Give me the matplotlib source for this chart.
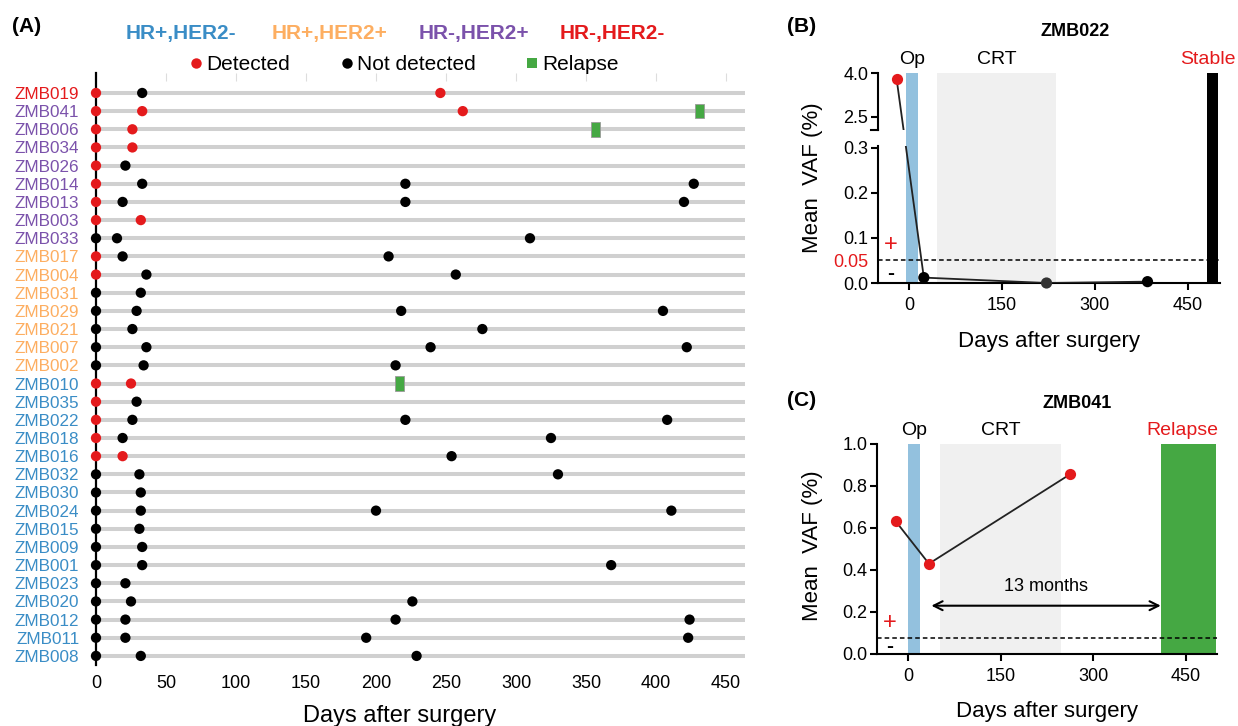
import matplotlib
matplotlib.use('Agg')
import matplotlib.pyplot as plt
from matplotlib.lines import Line2D
from matplotlib.transforms import IdentityTransform, blended_transform_factory

plt.rcParams['font.family'] = ['Liberation Sans', 'DejaVu Sans']

# ---------------- data: panel A ----------------
patients = ['ZMB019', 'ZMB041', 'ZMB006', 'ZMB034', 'ZMB026', 'ZMB014', 'ZMB013', 'ZMB003',
            'ZMB033', 'ZMB017', 'ZMB004', 'ZMB031', 'ZMB029', 'ZMB021', 'ZMB007', 'ZMB002',
            'ZMB010', 'ZMB035', 'ZMB022', 'ZMB018', 'ZMB016', 'ZMB032', 'ZMB030', 'ZMB024',
            'ZMB015', 'ZMB009', 'ZMB001', 'ZMB023', 'ZMB020', 'ZMB012', 'ZMB011', 'ZMB008']
subtypes = ['HR-,HER2-'] + ['HR-,HER2+'] * 8 + ['HR+,HER2+'] * 7 + ['HR+,HER2-'] * 16
sample_days = [
    [0, 33, 246], [0, 33, 262], [0, 26], [0, 26], [0, 21], [0, 33, 221, 427],
    [0, 19, 221, 420], [0, 32], [0, 15, 310], [0, 19, 209], [0, 36, 257], [0, 32],
    [0, 29, 218, 405], [0, 26, 276], [0, 36, 239, 422], [0, 34, 214], [0, 25],
    [0, 29], [0, 26, 221, 408], [0, 19, 325], [0, 19, 254], [0, 31, 330], [0, 32],
    [0, 32, 200, 411], [0, 31], [0, 33], [0, 33, 368], [0, 21], [0, 25, 226],
    [0, 21, 214, 424], [0, 21, 193, 423], [0, 32, 229]]
sample_detected = [
    [1, 0, 1], [1, 1, 1], [1, 1], [1, 1], [1, 0], [1, 0, 0, 0],
    [1, 0, 0, 0], [1, 1], [0, 0, 0], [1, 0, 0], [1, 0, 0], [0, 0],
    [0, 0, 0, 0], [0, 0, 0], [0, 0, 0, 0], [0, 0, 0], [1, 1],
    [1, 0], [1, 0, 0, 0], [1, 0, 0], [1, 1, 0], [0, 0, 0], [0, 0],
    [0, 0, 0, 0], [0, 0], [0, 0], [0, 0, 0], [0, 0], [0, 0, 0],
    [0, 0, 0, 0], [0, 0, 0, 0], [0, 0, 0]]
relapse_patients = ['ZMB041', 'ZMB006', 'ZMB010']
relapse_days = [431, 357, 217]
xticks_A = [0, 50, 100, 150, 200, 250, 300, 350, 400, 450]

# ---------------- data: panel B (ZMB022) ----------------
b_days = [-20, 24, 222, 385]
b_vaf = [3.8, 0.012, 0.0, 0.003]
b_colors = ['#E41A1C', '#000000', '#333333', '#000000']
b_op = (-5, 14)
b_crt = (45, 238)
b_stable = (481, 499)
b_cutoff = 0.05

# ---------------- data: panel C (ZMB041) ----------------
c_days = [-20, 34, 263]
c_vaf = [0.633, 0.43, 0.857]
c_op = (0, 19)
c_crt = (52, 247)
c_relapse = (410, 498)
c_cutoff = 0.075
c_arrow = (38, 409, 0.23)

RED = '#E41A1C'
BLUE_BAND = '#93C1DE'
GRAY_BAND = '#F0F0F0'
GREEN = '#45A843'
sub_colors = {'HR+,HER2-': '#3A8DC6', 'HR+,HER2+': '#FDAE61',
              'HR-,HER2+': '#7B52AB', 'HR-,HER2-': '#E41A1C'}

W, H = 1238, 726
fig = plt.figure(figsize=(W / 100, H / 100), dpi=100)


def fx(px):
    return px / W


def fy(py):
    return 1 - py / H


def rect(l, t, r, b):
    return [fx(l), fy(b), fx(r) - fx(l), fy(t) - fy(b)]


# ================= Panel A =================
axA = fig.add_axes(rect(96, 73, 745, 665))
n = len(patients)
axA.set_xlim(0, 463.6)
axA.set_ylim(n - 0.5, -1.1)
for i in range(n):
    axA.axhline(i, color='#D0D0D0', lw=2.9, zorder=1)
for i in range(n):
    days = sample_days[i]
    det = sample_detected[i]
    cols = [RED if d else 'black' for d in det]
    axA.scatter(days, [i] * len(days), s=55, c=cols, zorder=4, clip_on=False, linewidths=0)
for p, d in zip(relapse_patients, relapse_days):
    i = patients.index(p)
    axA.barh(i, 6.4, left=d - 3.2, height=0.8, color=GREEN, edgecolor='#9a9a9a',
             linewidth=0.6, zorder=5)
for s in ['top', 'right', 'bottom']:
    axA.spines[s].set_visible(False)
axA.spines['left'].set_linewidth(1.6)
axA.spines['left'].set_zorder(3)
axA.set_yticks(range(n))
axA.set_yticklabels(patients, fontsize=12.3)
for lab, st in zip(axA.get_yticklabels(), subtypes):
    lab.set_color(sub_colors[st])
axA.tick_params(axis='y', length=0, pad=12)
axA.set_xticks(xticks_A)
axA.tick_params(axis='x', bottom=False, top=True, direction='in', length=6,
                color='#DDDDDD', labelsize=13, pad=7)
fig.text(fx(400), fy(722), 'Days after surgery', fontsize=17, ha='center', va='baseline')
fig.text(fx(12), fy(27), '(A)', fontsize=15, fontweight='bold', ha='left', va='center')

header = ['HR+,HER2-', 'HR+,HER2+', 'HR-,HER2+', 'HR-,HER2-']
header_x = [181, 330, 474, 612]
for h, x in zip(header, header_x):
    fig.text(fx(x), fy(33), h, fontsize=15, fontweight='bold', color=sub_colors[h],
             ha='center', va='center')

handles = [Line2D([], [], ls='', marker='o', markersize=7.5, markerfacecolor=RED, markeredgewidth=0),
           Line2D([], [], ls='', marker='o', markersize=7.5, markerfacecolor='black', markeredgewidth=0),
           Line2D([], [], ls='', marker='s', markersize=6.5, markerfacecolor=GREEN, markeredgewidth=0)]
fig.legend(handles, ['Detected', 'Not detected', 'Relapse'], ncol=3, frameon=False,
           fontsize=15, loc='center left', bbox_to_anchor=(fx(188), fy(65)),
           borderaxespad=0, borderpad=0, handlelength=0.8, handletextpad=0.1,
           columnspacing=2.3)


def style_axis(ax, bottom=True):
    for s in ['top', 'right']:
        ax.spines[s].set_visible(False)
    ax.spines['left'].set_linewidth(1.5)
    ax.spines['bottom'].set_linewidth(1.5)
    if not bottom:
        ax.spines['bottom'].set_visible(False)
    ax.tick_params(width=1.5, length=5, direction='out', labelsize=13, pad=2)
    ax.set_facecolor('none')


# ================= Panel B =================
bx0, bx1 = -50, 502
ax_bg = fig.add_axes(rect(878, 73, 1220, 283))
ax_bg.set_xlim(bx0, bx1)
ax_bg.set_ylim(0, 1)
ax_bg.axis('off')
ax_bg.axvspan(*b_op, color=BLUE_BAND, lw=0)
ax_bg.axvspan(*b_crt, color=GRAY_BAND, lw=0)
ax_bg.axvspan(*b_stable, color='black', lw=0)
ax_bg.set_zorder(0)

ax_up = fig.add_axes(rect(878, 73, 1220, 130))
ax_lo = fig.add_axes(rect(878, 146, 1220, 283))
for ax in (ax_up, ax_lo):
    ax.set_zorder(1)
    ax.set_xlim(bx0, bx1)
ax_up.set_ylim(2.046, 4.0)
ax_lo.set_ylim(0, 0.3044)
style_axis(ax_up, bottom=False)
style_axis(ax_lo)
ax_up.set_xticks([])
ax_up.set_yticks([2.5, 4.0])
ax_up.set_yticklabels(['2.5', '4.0'])
ax_up.plot([-0.02, 0], [0, 0], transform=ax_up.transAxes, color='black', lw=1.5,
           clip_on=False)
ax_lo.set_xticks([0, 150, 300, 450])
ax_lo.tick_params(axis='x', pad=5)
ax_lo.set_yticks([0, b_cutoff, 0.1, 0.2, 0.3])
ax_lo.set_yticklabels(['0.0', '0.05', '0.1', '0.2', '0.3'])
ax_lo.get_yticklabels()[1].set_color(RED)
ax_lo.yaxis.get_major_ticks()[1].tick1line.set_visible(False)
ax_lo.axhline(b_cutoff, color='black', ls=(0, (3, 2)), lw=1.1, zorder=2)

# points
ax_up.scatter(b_days[:1], b_vaf[:1], s=65, c=b_colors[:1], zorder=5, clip_on=False, linewidths=0)
ax_lo.plot(b_days[1:], b_vaf[1:], color='#222222', lw=1.3, zorder=3)
ax_lo.scatter(b_days[1:], b_vaf[1:], s=65, c=b_colors[1:], zorder=5, clip_on=False, linewidths=0)
# line crossing the axis break (drawn in display space between both axes)
p1 = ax_up.transData.transform((b_days[0], b_vaf[0]))
p2 = ax_lo.transData.transform((b_days[1], b_vaf[1]))
for ax in (ax_up, ax_lo):
    ln = Line2D([p1[0], p2[0]], [p1[1], p2[1]], transform=IdentityTransform(),
                color='#222222', lw=1.3, zorder=3)
    ax.add_line(ln)
    ax.set_xlim(bx0, bx1)
ax_up.set_ylim(2.046, 4.0)
ax_lo.set_ylim(0, 0.3044)

ax_lo.text(-29, 0.084, '+', color=RED, fontsize=17, ha='center', va='center')
ax_lo.text(-29, 0.022, '-', color='black', fontsize=15, ha='center', va='center',
           fontweight='bold')
tb = blended_transform_factory(ax_bg.transData, ax_bg.transAxes)
ax_bg.text(sum(b_op) / 2, 1.025, 'Op', transform=tb, fontsize=14, ha='center', va='bottom')
ax_bg.text(sum(b_crt) / 2, 1.025, 'CRT', transform=tb, fontsize=14, ha='center', va='bottom')
ax_bg.text(sum(b_stable) / 2 - 7, 1.025, 'Stable', transform=tb, fontsize=14, color=RED,
           ha='center', va='bottom')
fig.text(fx(1075), fy(32), 'ZMB022', fontsize=13, fontweight='bold', ha='center', va='center')
fig.text(fx(787), fy(27), '(B)', fontsize=15, fontweight='bold', ha='left', va='center')
fig.text(fx(812), fy(178), 'Mean  VAF (%)', fontsize=16, rotation=90, ha='center', va='center')
fig.text(fx(1049), fy(347), 'Days after surgery', fontsize=16, ha='center', va='baseline')

# ================= Panel C =================
axC = fig.add_axes(rect(877, 444, 1217, 654))
axC.set_xlim(-50, 500)
axC.set_ylim(0, 1.0)
style_axis(axC)
axC.set_facecolor('white')
axC.axvspan(*c_op, color=BLUE_BAND, lw=0, zorder=0)
axC.axvspan(*c_crt, color=GRAY_BAND, lw=0, zorder=0)
axC.axvspan(*c_relapse, color=GREEN, lw=0, zorder=1)
axC.axhline(c_cutoff, color='black', ls=(0, (3, 2)), lw=1.1, zorder=2)
axC.plot(c_days, c_vaf, color='#222222', lw=1.3, zorder=3)
axC.scatter(c_days, c_vaf, s=65, c=RED, zorder=5, clip_on=False, linewidths=0)
axC.set_xticks([0, 150, 300, 450])
axC.set_yticks([0, 0.2, 0.4, 0.6, 0.8, 1.0])
axC.set_yticklabels(['0.0', '0.2', '0.4', '0.6', '0.8', '1.0'])
axC.tick_params(axis='x', pad=5)
axC.annotate('', xy=(c_arrow[0], c_arrow[2]), xytext=(c_arrow[1], c_arrow[2]),
             arrowprops=dict(arrowstyle='<->', color='black', lw=1.5,
                             mutation_scale=16, shrinkA=0, shrinkB=0), zorder=4)
axC.text((c_arrow[0] + c_arrow[1]) / 2, c_arrow[2] + 0.09, '13 months', fontsize=13,
         ha='center', va='center')
axC.text(-30, 0.146, '+', color=RED, fontsize=17, ha='center', va='center')
axC.text(-30, 0.035, '-', color='black', fontsize=15, ha='center', va='center',
         fontweight='bold')
tc = blended_transform_factory(axC.transData, axC.transAxes)
axC.text(sum(c_op) / 2, 1.025, 'Op', transform=tc, fontsize=14, ha='center', va='bottom')
axC.text(sum(c_crt) / 2, 1.025, 'CRT', transform=tc, fontsize=14, ha='center', va='bottom')
axC.text(sum(c_relapse) / 2 - 10, 1.025, 'Relapse', transform=tc, fontsize=14, color=RED,
         ha='center', va='bottom')
fig.text(fx(1077), fy(403), 'ZMB041', fontsize=13, fontweight='bold', ha='center', va='center')
fig.text(fx(787), fy(400), '(C)', fontsize=15, fontweight='bold', ha='left', va='center')
fig.text(fx(812), fy(546), 'Mean  VAF (%)', fontsize=16, rotation=90, ha='center', va='center')
fig.text(fx(1047), fy(717), 'Days after surgery', fontsize=16, ha='center', va='baseline')

fig.savefig('out.png', dpi=100)
